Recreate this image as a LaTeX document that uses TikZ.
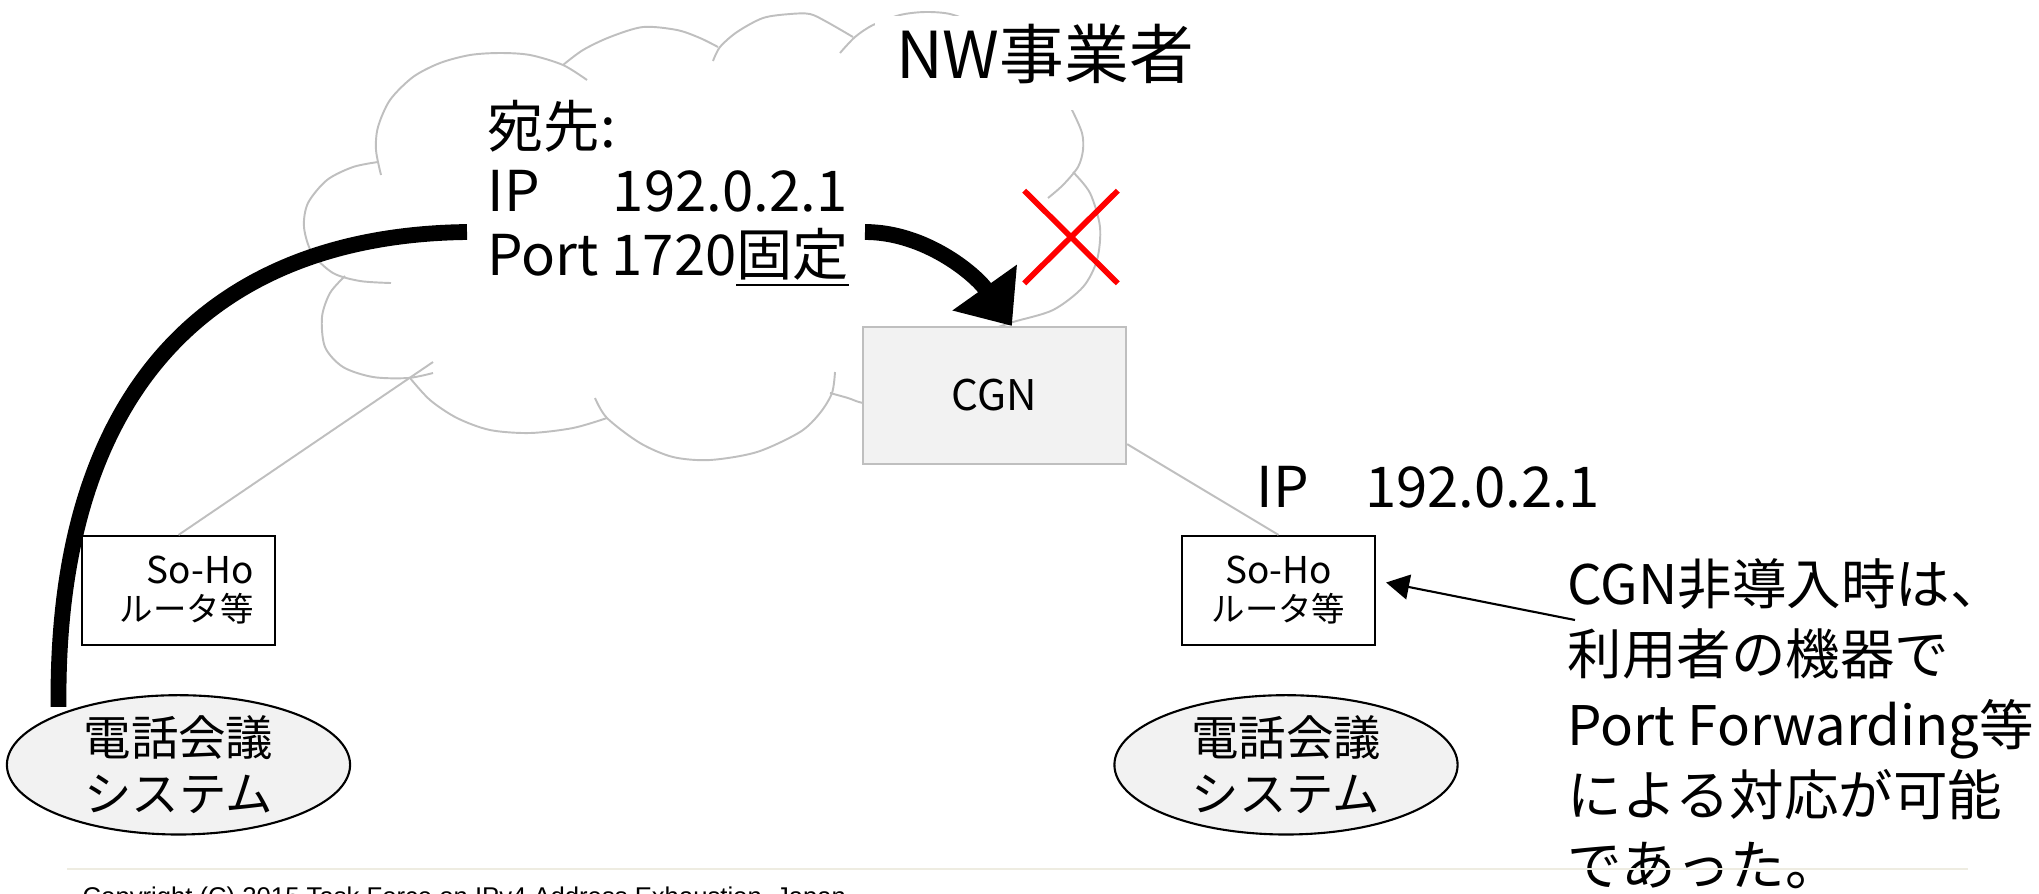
\documentclass[tikz,border=0pt]{standalone}
\usepackage{fontspec}
\setmainfont{Noto Sans CJK JP}
\newfontfamily\copyfont{Liberation Sans}
\usetikzlibrary{arrows.meta, positioning, shapes.geometric, shapes.misc}
\definecolor{cloudgray}{HTML}{BFBFBF}
\definecolor{boxgray}{HTML}{F2F2F2}
\definecolor{rulebeige}{HTML}{EEECE1}

\begin{document}
\begin{tikzpicture}[
        x=0.01cm, y=-0.01cm,
        cloudline/.style={draw=cloudgray, line width=0.55pt},
        link/.style={draw=cloudgray, line width=0.55pt},
        router/.style={rectangle, draw, line width=0.6pt, minimum width=1.93cm, minimum height=1.09cm, inner sep=0pt, font=\fontsize{10.5}{10.8}\selectfont},
        phone/.style={ellipse, draw, fill=boxgray, line width=0.6pt, minimum width=3.43cm, minimum height=1.24cm, inner sep=0pt, align=center, font=\fontsize{13.5}{16}\selectfont},
        bigtext/.style={inner sep=0pt, align=left, font=\fontsize{16}{18.1}\selectfont},
        fat/.style={line width=4.5pt},
        pointer/.style={-{Triangle[length=2.3mm, width=2.5mm]}, line width=0.6pt}
        ]
        \useasboundingbox (0,0) rectangle (2039,893);
        \draw[cloudline] plot[smooth] coordinates {(378,162) (353,167) (327,180) (308,203) (304,227) (312,253) (333,273) (360,281) (391,283)};
        \draw[cloudline] plot[smooth] coordinates {(381,175) (376,150) (378,127) (390,100) (413,77) (440,63) (470,55) (500,53) (530,55) (563,65) (587,80)};
        \draw[cloudline] plot[smooth] coordinates {(563,65) (583,50) (610,37) (643,27) (677,30) (700,38) (718,47)};
        \draw[cloudline] plot[smooth] coordinates {(713,61) (720,47) (737,32) (763,18) (790,14) (810,14) (827,22) (853,37)};
        \draw[cloudline] plot[smooth] coordinates {(840,53) (855,37) (873,25) (900,15) (925,12) (950,14) (975,24) (990,40)};
        \draw[cloudline] plot[smooth] coordinates {(1020,60) (1050,85) (1066,100) (1073,112) (1082,133) (1083,150) (1078,167) (1063,185) (1048,198)};
        \draw[cloudline] plot[smooth] coordinates {(1073,172) (1090,193) (1100,227) (1097,260) (1083,287) (1053,310) (1013,322) (990,330) (975,335)};
        \draw[cloudline] plot[smooth] coordinates {(830,393) (848,398) (863,403) (890,405) (920,400)};
        \draw[cloudline] plot[smooth] coordinates {(595,398) (607,418) (640,443) (673,457) (710,460) (757,452) (800,432) (820,413) (832,393) (835,372)};
        \draw[cloudline] plot[smooth] coordinates {(410,378) (430,400) (457,418) (490,430) (530,433) (573,428) (607,418)};
        \draw[cloudline] plot[smooth] coordinates {(345,276) (330,293) (322,317) (325,347) (343,367) (373,377) (408,378) (433,373)};
        \node[rectangle, draw=cloudgray, fill=boxgray, line width=0.6pt, minimum width=2.63cm, minimum height=1.37cm, font=\fontsize{12}{14}\selectfont] (cgn) at (994.5,395.5) {CGN};
        \node[fill=white, inner sep=0pt, minimum width=3.4cm, text height=0.62cm, text depth=0.32cm, font=\fontsize{18.4}{20}\selectfont] (nwop) at (1045,63) {NW事業者};
        \node[bigtext, anchor=north west] (dest) at (487,100) {宛先:\\IP\hspace{1.3em}192.0.2.1\\Port 1720\underline{固定}};
        \node[router, text width=1.5cm, align=right] (lsoho) at (178.5,590.5) {So-Ho\\{\fontsize{9.5}{10}\selectfont ルータ等}};
        \node[router, align=center] (rsoho) at (1278.5,590.5) {So-Ho\\{\fontsize{9.5}{10}\selectfont ルータ等}};
        \node[phone, below=0.48cm of lsoho] (lsys) {電話会議\\システム};
        \node[phone, below=0.48cm of rsoho, xshift=0.075cm] (rsys) {電話会議\\システム};
        \node[bigtext, anchor=base west] (wanip) at (1256,507) {IP\hspace{1.0em}192.0.2.1};
        \node[bigtext, anchor=north west, font=\fontsize{15.5}{20.0}\selectfont] (note) at (1567,558) {CGN非導入時は、\\利用者の機器で\\Port Forwarding等\\による対応が可能\\であった。};
        \node[cross out, draw=red, line width=1.6pt, minimum width=0.88cm, minimum height=0.87cm, inner sep=0pt] (ng) at (1071,237) {};
        \coordinate (cloudL) at (433,362);
        \coordinate (lsrc) at (467,232);
        \coordinate (rsrc) at (865,232);
        \draw[link] (lsoho.north) -- (cloudL);
        \draw[link] (cgn.south east) ++(0,-21) -- (rsoho.north);
        \draw[fat, shorten >=2pt] (lsrc) .. controls (220,235) and (55,380) .. (lsys.157);
        \draw[fat, -{Triangle[length=4.7mm, width=7.6mm]}] (rsrc) .. controls (925,232) and (975,274) .. (cgn.76);
        \draw[pointer] ([shift={(8,62)}]note.north west) -- ([xshift=1mm, yshift=0.8mm]rsoho.east);
        \draw[rulebeige, line width=0.6pt] (67,869) -- (1968,869);
        \node[anchor=base west, inner sep=0pt, font=\copyfont\fontsize{7.3}{8}\selectfont] (copyr) at (82,905) {Copyright (C) 2015 Task Force on IPv4 Address Exhaustion, Japan};
\end{tikzpicture}
\end{document}
